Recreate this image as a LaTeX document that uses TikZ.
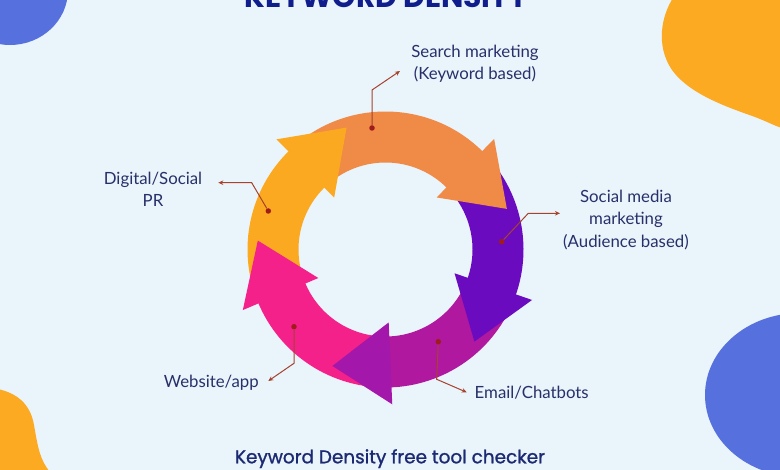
\documentclass[tikz,border=0pt]{standalone}
\usepackage{fontspec}
\setmainfont{Lato}
\newfontfamily\popfont{Poppins}
\newfontfamily\popmed{Poppins}[BoldFont={Poppins}, BoldFeatures={FakeBold=1.2}]
\usetikzlibrary{arrows.meta}
\definecolor{bgc}{HTML}{EAF4FB}
\definecolor{blobblue}{HTML}{5670DE}
\definecolor{bloborange}{HTML}{FBAA22}
\definecolor{cOrange}{HTML}{EF8A47}
\definecolor{cPurple}{HTML}{6A0BBF}
\definecolor{cMagenta}{HTML}{B0189F}
\definecolor{cMagHead}{HTML}{A317AA}
\definecolor{cPink}{HTML}{F5218A}
\definecolor{cYellow}{HTML}{FBA920}
\definecolor{connc}{HTML}{A5432D}
\definecolor{dotc}{HTML}{9E1C1C}
\definecolor{labc}{HTML}{28306A}
\definecolor{titlec}{HTML}{0F1E8C}
\definecolor{footc}{HTML}{1C2A73}
\newcommand\ringband[3]{\fill[#1] (#2:138) arc[start angle=#2, end angle=#3, radius=138pt] -- (#3:87) arc[start angle=#3, end angle=#2, radius=87pt] -- cycle;}
\newcommand\ringhead[2]{\fill[#1] (#2:73) -- (#2:155) -- ({#2-27}:128) -- cycle;}
\begin{document}
\begin{tikzpicture}[x=1pt,y=-1pt,
  dot/.style={circle, fill=dotc, inner sep=0pt, minimum size=5.5pt},
  conn/.style={draw=connc, line width=1pt, -{Stealth[length=5pt,width=4.5pt]}},
  lab/.style={text=labc, align=center, font=\fontsize{16.8}{22.3}\selectfont, inner sep=0pt}]
\useasboundingbox (0,0) rectangle (780,470);
\clip (0,0) rectangle (780,470);
\fill[bgc] (0,0) rectangle (780,470);
% blobs
\fill[blobblue] (10,-10) ellipse [x radius=58pt, y radius=55pt];
\fill[bloborange] (673,-2) .. controls (662,15) and (655,45) .. (672,70) .. controls (690,95) and (730,108) .. (755,117) .. controls (768,122) and (775,126) .. (782,128) -- (782,-2) -- cycle;
\fill[bloborange] (-2,389) .. controls (15,393) and (30,402) .. (34,425) .. controls (38,448) and (40,460) .. (50,472) -- (-2,472) -- cycle;
\fill[blobblue] (800,395) ellipse [x radius=95pt, y radius=82pt];
% ring
\begin{scope}[shift={(385.5,249.5)}, x=1pt, y=1pt]
  \ringband{cOrange}{133.7}{44.5}
  \ringband{cPurple}{44.5}{-20}
  \ringband{cMagenta}{-20}{-88.5}
  \ringband{cPink}{-88.5}{-158}
  \ringband{cYellow}{-158}{-226.3}
  \ringhead{cOrange}{45.5}
  \ringhead{cPurple}{-19}
  \ringhead{cMagHead}{-87.5}
  \ringhead{cPink}{-157}
  \ringhead{cYellow}{134.7}
\end{scope}
% title and footer
\node[anchor=base, inner sep=0pt, text=titlec] (title) at (386.5,7.7) {\resizebox{283pt}{!}{\popfont\bfseries KEYWORD DENSITY}};
\node[anchor=base, inner sep=0pt, text=footc] (foot) at (390,463.3) {\resizebox{310pt}{!}{\popmed\bfseries Keyword Density free tool checker}};
% dots
\node[dot] (dS) at (372,128) {};
\node[dot] (dM) at (501.7,241.7) {};
\node[dot] (dD) at (268.3,211) {};
\node[dot] (dW) at (294,326.7) {};
\node[dot] (dE) at (438.3,341.7) {};
% bends and tips
\coordinate (bS) at (372,90);   \coordinate (tS) at (400,71);
\coordinate (bM) at (528.3,213.3); \coordinate (tM) at (560,213.3);
\coordinate (bD) at (251.7,182.7); \coordinate (tD) at (218.3,182.7);
\coordinate (bW) at (294,363.3); \coordinate (tW) at (268.3,381);
\coordinate (bE) at (436.7,379.3); \coordinate (tE) at (466.7,392.3);
\draw[conn] (dS) -- (bS) -- (tS);
\draw[conn] (dM) -- (bM) -- (tM);
\draw[conn] (dD) -- (bD) -- (tD);
\draw[conn] (dW) -- (bW) -- (tW);
\draw[conn] (dE) -- (bE) -- (tE);
% labels
\node[lab] (lS) at (475,64) {Search marketing\\(Keyword based)};
\node[lab] (lM) at (626,220) {Social media\\marketing\\(Audience based)};
\node[lab] (lD) at (153,189) {Digital/Social\\PR};
\node[lab] (lW) at (211.3,383) {Website/app};
\node[lab] (lE) at (531.7,393) {Email/Chatbots};
\end{tikzpicture}
\end{document}
